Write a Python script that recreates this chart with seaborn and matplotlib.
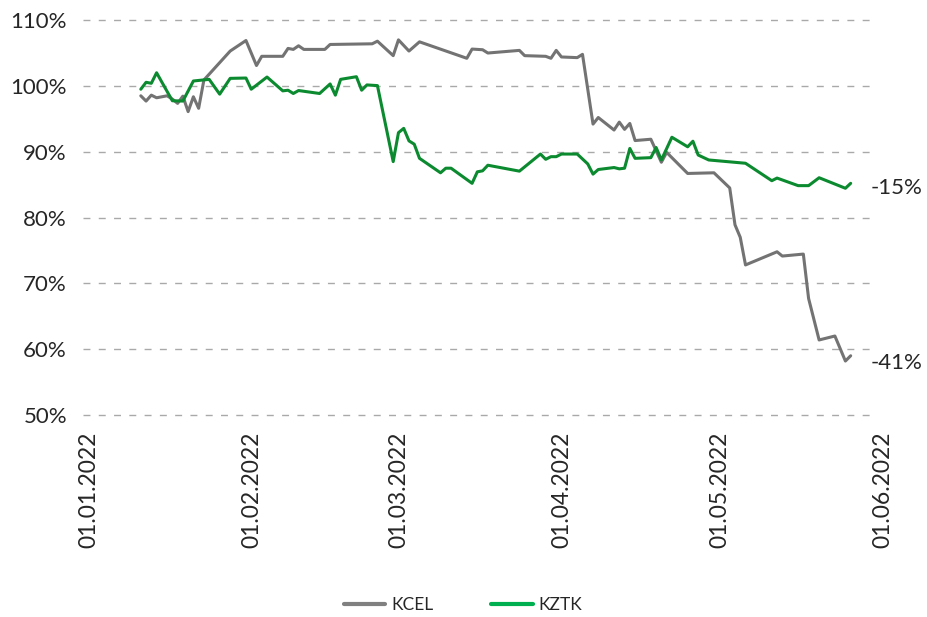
import numpy as np
import pandas as pd
import seaborn as sns
import matplotlib.pyplot as plt
import matplotlib.dates as mdates
from matplotlib.transforms import ScaledTranslation

YEAR = 2022

# KCEL (grey) - relative price, %
kcel_dates = ["12.01", "13.01", "14.01", "15.01", "17.01", "18.01", "19.01", "20.01", "21.01", "22.01",
              "23.01", "24.01", "29.01", "01.02", "03.02", "04.02", "08.02", "09.02", "10.02", "11.02",
              "12.02", "16.02", "17.02", "25.02", "26.02", "01.03", "02.03", "04.03", "06.03", "15.03",
              "16.03", "18.03", "19.03", "25.03", "26.03", "30.03", "31.03", "01.04", "02.04", "05.04",
              "06.04", "08.04", "09.04", "12.04", "13.04", "14.04", "15.04", "16.04", "19.04", "21.04",
              "22.04", "26.04", "01.05", "04.05", "05.05", "06.05", "07.05", "13.05", "14.05", "18.05",
              "19.05", "21.05", "24.05", "26.05", "27.05"]
kcel_vals = [98.5, 97.7, 98.6, 98.2, 98.5, 98.0, 97.35, 98.45, 96.1, 98.35,
             96.6, 100.9, 105.3, 106.9, 103.1, 104.5, 104.5, 105.7, 105.55, 106.1,
             105.55, 105.55, 106.3, 106.4, 106.8, 104.6, 107.0, 105.3, 106.7, 104.2,
             105.6, 105.5, 105.0, 105.4, 104.6, 104.5, 104.2, 105.4, 104.4, 104.3,
             104.8, 94.2, 95.2, 93.3, 94.5, 93.4, 94.3, 91.7, 91.9, 88.4,
             89.9, 86.7, 86.8, 84.5, 78.9, 77.0, 72.8, 74.8, 74.15, 74.45,
             67.7, 61.4, 62.0, 58.2, 59.0]

# KZTK (green)
kztk_dates = ["12.01", "13.01", "14.01", "15.01", "18.01", "20.01", "22.01", "25.01", "27.01", "29.01",
              "01.02", "02.02", "05.02", "08.02", "09.02", "10.02", "11.02", "15.02", "17.02", "18.02",
              "19.02", "22.02", "23.02", "24.02", "26.02", "01.03", "02.03", "03.03", "04.03", "05.03",
              "06.03", "10.03", "11.03", "12.03", "16.03", "17.03", "18.03", "19.03", "25.03", "29.03",
              "30.03", "31.03", "01.04", "02.04", "05.04", "07.04", "08.04", "09.04", "12.04", "13.04",
              "14.04", "15.04", "16.04", "19.04", "20.04", "21.04", "23.04", "26.04", "27.04", "28.04",
              "30.04", "07.05", "12.05", "13.05", "17.05", "19.05", "21.05", "26.05", "27.05"]
kztk_vals = [99.5, 100.55, 100.4, 102.0, 97.75, 97.7, 100.75, 101.0, 98.75, 101.15,
             101.2, 99.5, 101.35, 99.25, 99.35, 98.85, 99.3, 98.85, 100.3, 98.6,
             101.0, 101.4, 99.35, 100.15, 100.05, 88.5, 92.9, 93.55, 91.65, 91.15,
             89.0, 86.8, 87.5, 87.5, 85.2, 86.95, 87.1, 87.95, 87.05, 89.65,
             88.85, 89.25, 89.25, 89.65, 89.65, 88.15, 86.6, 87.3, 87.6, 87.4,
             87.5, 90.5, 89.0, 89.1, 90.65, 88.75, 92.2, 90.75, 91.6, 89.5,
             88.75, 88.25, 85.6, 86.0, 84.85, 84.85, 86.05, 84.45, 85.2]

tickers = ["KCEL", "KZTK"]
line_colors = {"KCEL": "#737373", "KZTK": "#0b8a2f"}
legend_colors = {"KCEL": "#808080", "KZTK": "#00b050"}

df = pd.concat([
    pd.DataFrame({"date": [d + "." + str(YEAR) for d in kcel_dates], "value": kcel_vals, "ticker": "KCEL"}),
    pd.DataFrame({"date": [d + "." + str(YEAR) for d in kztk_dates], "value": kztk_vals, "ticker": "KZTK"}),
])
df["date"] = pd.to_datetime(df["date"], format="%d.%m.%Y")

sns.set_theme(style="white")
plt.rcParams["font.family"] = ["Lato", "DejaVu Sans"]
text_color = "#262626"

fig = plt.figure(figsize=(9.28, 6.17), dpi=100)
ax = fig.add_axes([0.0894, 0.3274, 0.8556, 0.640])

sns.lineplot(data=df, x="date", y="value", hue="ticker", hue_order=tickers,
             palette=line_colors, linewidth=2.2, ax=ax)

ax.set_xlim(pd.Timestamp(f"{YEAR}-01-01"), pd.Timestamp(f"{YEAR}-06-01"))
ax.set_ylim(50, 110)
ax.set_yticks(np.arange(50, 111, 10))
ax.yaxis.set_major_formatter(plt.FuncFormatter(lambda v, p: f"{v:.0f}%"))
ax.xaxis.set_major_locator(mdates.MonthLocator())
ax.xaxis.set_major_formatter(mdates.DateFormatter("%d.%m.%Y"))

ax.set_xlabel("")
ax.set_ylabel("")
for s in ax.spines.values():
    s.set_visible(False)

ax.yaxis.grid(True, color="#a9a9a9", linestyle=(0, (5, 6)), linewidth=1.0)
ax.xaxis.grid(False)
for gl in ax.get_ygridlines():
    gl.set_clip_on(False)

ax.tick_params(axis="y", length=0, pad=11.5, labelsize=16, labelcolor=text_color)
ax.tick_params(axis="x", length=0, pad=12, labelsize=16.5, labelcolor=text_color)
offset = ScaledTranslation(6 / 100, 0, fig.dpi_scale_trans)
for lbl in ax.get_xticklabels():
    lbl.set_rotation(90)
    lbl.set_ha("center")
    lbl.set_va("top")
    lbl.set_transform(lbl.get_transform() + offset)

# end labels
for t, dy in [("KZTK", -3.5), ("KCEL", -5)]:
    sub = df[df["ticker"] == t]
    last = sub.iloc[-1]
    ax.annotate(f"{last['value'] - 100:.0f}%", xy=(last["date"], last["value"]),
                xytext=(14.5, dy), textcoords="offset points",
                ha="left", va="center", fontsize=16, color=text_color,
                annotation_clip=False)

sns.move_legend(ax, "center", bbox_to_anchor=(0.499, 0.0195), bbox_transform=fig.transFigure,
                ncol=2, frameon=False, title=None, fontsize=12.5,
                handlelength=2.4, handletextpad=0.35, columnspacing=3.3)
leg = ax.get_legend()
for h, t in zip(leg.legend_handles, tickers):
    h.set_color(legend_colors[t])
    h.set_linewidth(3)
for txt in leg.get_texts():
    txt.set_color(text_color)

fig.savefig("out.png", dpi=100, facecolor="white")
